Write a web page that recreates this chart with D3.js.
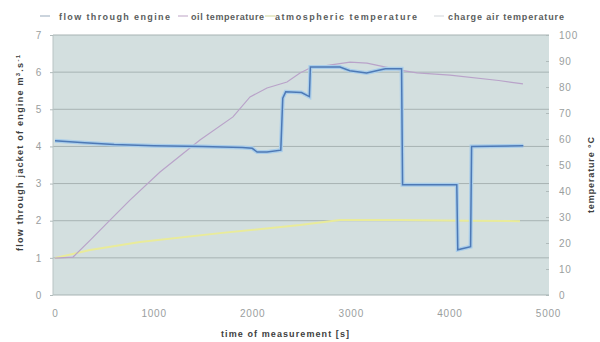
<!DOCTYPE html>
<html><head><meta charset="utf-8">
<script src="https://cdn.jsdelivr.net/npm/d3@7"></script>
<style>body{margin:0;background:#fff}svg{display:block;font-family:"Liberation Sans",Arial,sans-serif}</style>
</head><body><svg id="c" width="600" height="342"></svg>
<script>
// ---- data ----
const flowTime  = [0,300,600,1000,1500,1900,2000,2050,2150,2290,2310,2340,2500,2580,2590,2890,2990,3160,3350,3515,3525,4075,4085,4215,4225,4750];
const flowValue = [4.15,4.1,4.05,4.02,4.0,3.97,3.95,3.85,3.85,3.9,5.3,5.47,5.45,5.34,6.14,6.14,6.04,5.98,6.09,6.09,2.97,2.97,1.22,1.3,4.0,4.02];
const oilTime   = [0,183,355,558,760,1065,1470,1805,1978,2150,2353,2485,2586,2800,2992,3164,3499,3671,4006,4500,4746];
const oilTemp   = [14.2,14.6,21,28.8,36.5,47.3,59.6,68.5,76.2,79.6,81.9,85.4,87.3,88.5,89.6,89.2,86.5,85.4,84.6,82.5,81.2];
const atmTime   = [0,355,862,1673,2485,2890,3500,4200,4716];
const atmTemp   = [14.2,17.3,20.4,23.8,26.9,28.8,28.8,28.6,28.4];
const xTicks    = [0,1000,2000,3000,4000,5000];
const yLeftTicks  = [0,1,2,3,4,5,6,7];
const yRightTicks = [0,10,20,30,40,50,60,70,80,90,100];
const legendLabels = ["flow through  engine","oil temperature","atmospheric temperature","charge air temperature"];

const svg = d3.select("#c");
const L=53, R=549, T=35, B=295;
const x = d3.scaleLinear().domain([0,5000]).range([55,548]);
const yL = d3.scaleLinear().domain([0,7]).range([B,T]);
const yR = d3.scaleLinear().domain([0,100]).range([B,T]);

svg.append("rect").attr("x",L).attr("y",T).attr("width",R-L).attr("height",B-T).attr("fill","#d3dfdf");
// gridlines
svg.append("g").selectAll("line").data(yLeftTicks).join("line")
  .attr("x1",L).attr("x2",R).attr("y1",d=>yL(d)).attr("y2",d=>yL(d))
  .attr("stroke","#a7b3b3").attr("stroke-width",1);
svg.append("line").attr("x1",L).attr("x2",L).attr("y1",T).attr("y2",B).attr("stroke","#b9c4c4");

// axes
const axL = svg.append("g").attr("transform",`translate(${L},0)`)
  .call(d3.axisLeft(yL).tickValues(yLeftTicks).tickSize(3).tickPadding(8).tickFormat(d3.format("d")));
const axR = svg.append("g").attr("transform",`translate(${R-3},0)`)
  .call(d3.axisRight(yR).tickValues(yRightTicks).tickSize(3).tickPadding(10).tickFormat(d3.format("d")));
const axB = svg.append("g").attr("transform",`translate(0,${B+13})`)
  .call(d3.axisBottom(x).tickValues(xTicks).tickSize(0).tickPadding(2).tickFormat(d3.format("d")));
[axL,axR,axB].forEach(a=>{a.select(".domain").remove();
  a.selectAll("text").attr("fill","#9a9e9e").attr("font-size",10).attr("letter-spacing",0.8);
  a.selectAll("line").attr("stroke","#b0bbbb");});

// lines
const lineXY = (xs,ys,ys2) => d3.line().x((d,i)=>x(xs[i])).y((d,i)=>ys2(ys[i]));
svg.append("path").datum(atmTime).attr("d",lineXY(atmTime,atmTemp,yR))
  .attr("fill","none").attr("stroke","#e9eb9a").attr("stroke-width",2);
svg.append("path").datum(oilTime).attr("d",lineXY(oilTime,oilTemp,yR))
  .attr("fill","none").attr("stroke","#b9a3c9").attr("stroke-width",1.2);
svg.append("path").datum(flowTime).attr("d",lineXY(flowTime,flowValue,yL))
  .attr("fill","none").attr("stroke","#a9cdea").attr("stroke-width",4);
svg.append("path").datum(flowTime).attr("d",lineXY(flowTime,flowValue,yL))
  .attr("fill","none").attr("stroke","#4d79b6").attr("stroke-width",1.5);

// legend
const legX = [40,178,265,434];
const legTX = [59,191,275,448];
const legW = [111,73,142,116];
const legCol = ["#a9b7c6","#c9b3cf","#d8dca8","#d9dde0"];
const lg = svg.append("g");
legendLabels.forEach((t,i)=>{
  lg.append("line").attr("x1",legX[i]).attr("x2",legX[i]+10).attr("y1",16).attr("y2",16).attr("stroke",legCol[i]).attr("stroke-width",1.2);
  lg.append("text").attr("x",legTX[i]).attr("y",20).text(t).attr("font-size",9).attr("font-weight","bold").attr("fill","#5a5d5d")
    .attr("textLength",legW[i]).attr("lengthAdjust","spacing");
});

// axis titles
svg.append("text").attr("x",285).attr("y",337).attr("text-anchor","middle").attr("font-size",9).attr("font-weight","bold").attr("fill","#3d4040")
  .attr("textLength",128).attr("lengthAdjust","spacing").text("time of measurement  [s]");
svg.append("text").attr("transform","translate(23,153) rotate(-90)").attr("text-anchor","middle").attr("font-size",9).attr("font-weight","bold").attr("fill","#3d4040")
  .attr("textLength",196).attr("lengthAdjust","spacing")
  .html('flow through  jacket of engine  m<tspan baseline-shift="super" font-size="6">3</tspan>.s<tspan baseline-shift="super" font-size="6">-1</tspan>');
svg.append("text").attr("transform","translate(594,175) rotate(-90)").attr("text-anchor","middle").attr("font-size",9).attr("font-weight","bold").attr("fill","#3d4040")
  .attr("textLength",76).attr("lengthAdjust","spacing").text("temperature °C");
</script></body></html>
